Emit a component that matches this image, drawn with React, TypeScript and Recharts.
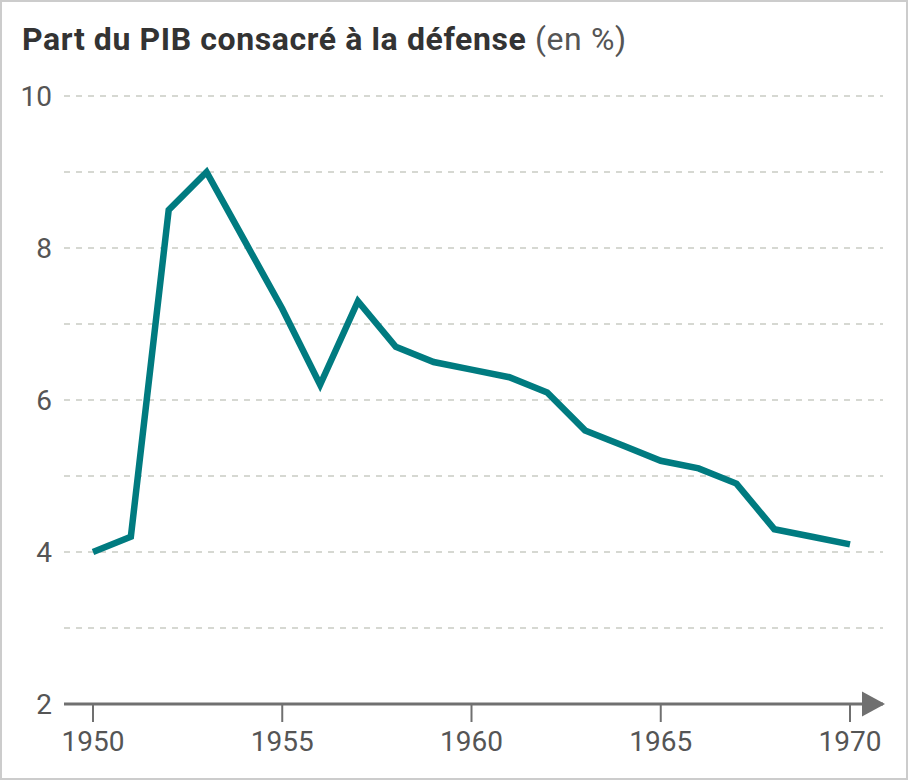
import React from 'react';
import { LineChart, Line, XAxis, YAxis, CartesianGrid } from 'recharts';

const years = [
  1950, 1951, 1952, 1953, 1954, 1955, 1956, 1957, 1958, 1959, 1960,
  1961, 1962, 1963, 1964, 1965, 1966, 1967, 1968, 1969, 1970,
];
const defenseShare = [
  4.0, 4.2, 8.5, 9.0, 8.1, 7.2, 6.2, 7.3, 6.7, 6.5, 6.4,
  6.3, 6.1, 5.6, 5.4, 5.2, 5.1, 4.9, 4.3, 4.2, 4.1,
];
const xTicks = [1950, 1955, 1960, 1965, 1970];
const yTicks = [2, 4, 6, 8, 10];
const gridValues = [3, 4, 5, 6, 7, 8, 9, 10];

const data = years.map((year, i) => ({ year, value: defenseShare[i] }));

const FONT = 'Roboto, "Open Sans", sans-serif';

// arrow head at the right end of the x axis line
const ArrowHead = (props: any) => {
  const vb = props.viewBox;
  if (!vb) return null;
  const tipX = vb.x + vb.width + 2;
  const y = vb.y;
  return (
    <polygon
      points={`${tipX - 23},${y - 12.5} ${tipX},${y} ${tipX - 23},${y + 12.5}`}
      fill="#707070"
    />
  );
};

const App: React.FC = () => {
  return (
    <div
      style={{
        position: 'absolute',
        left: 0,
        top: 0,
        width: 908,
        height: 780,
        boxSizing: 'border-box',
        border: '2px solid #cccccc',
        background: '#fff',
        fontFamily: FONT,
      }}
    >
      <div
        style={{
          position: 'absolute',
          left: 20,
          top: 17,
          fontSize: 32,
          lineHeight: '40px',
          letterSpacing: 0.6,
          color: '#333',
          whiteSpace: 'nowrap',
        }}
      >
        <span style={{ fontWeight: 700 }}>Part du PIB consacré à la défense</span>
        <span style={{ color: '#555' }}> (en %)</span>
      </div>
      <LineChart
        width={904}
        height={776}
        data={data}
        margin={{ top: 94, right: 23, left: 22, bottom: 24 }}
      >
        <CartesianGrid
          vertical={false}
          horizontalValues={gridValues}
          stroke="#c9ccc4"
          strokeWidth={1.5}
          strokeDasharray="6 6"
        />
        <XAxis
          dataKey="year"
          type="number"
          domain={[1950, 1970]}
          ticks={xTicks}
          padding={{ left: 29, right: 33 }}
          height={50}
          axisLine={{ stroke: '#707070', strokeWidth: 3 }}
          tickLine={{ stroke: '#707070', strokeWidth: 2 }}
          tickSize={18}
          tickMargin={9}
          tick={{ fill: '#555', fontSize: 28, fontFamily: FONT }}
          label={<ArrowHead />}
        />
        <YAxis
          domain={[2, 10]}
          ticks={yTicks}
          width={40}
          axisLine={false}
          tickLine={false}
          tickSize={0}
          tickMargin={12}
          tick={{ fill: '#555', fontSize: 28, fontFamily: FONT }}
        />
        <Line
          type="linear"
          dataKey="value"
          stroke="#007b80"
          strokeWidth={6.5}
          dot={false}
          activeDot={false}
          isAnimationActive={false}
        />
      </LineChart>
    </div>
  );
};

export default App;
